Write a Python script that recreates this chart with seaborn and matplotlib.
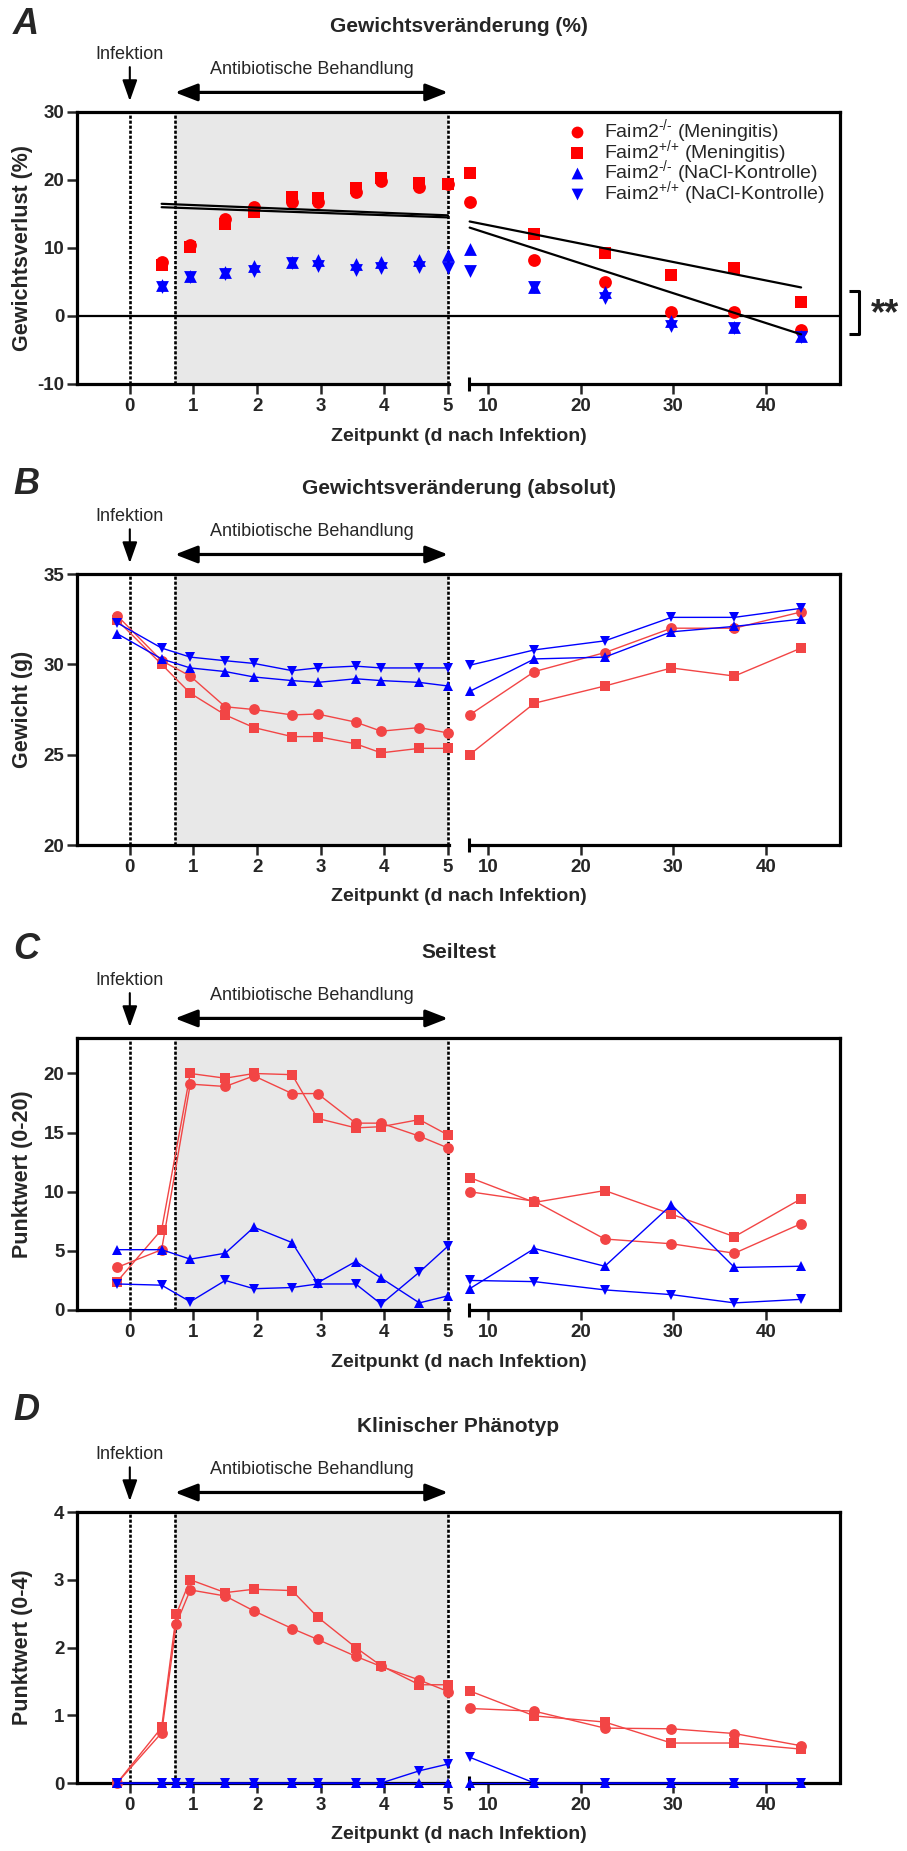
import numpy as np
import matplotlib.pyplot as plt
import seaborn as sns

sns.set_style('ticks')
plt.rcParams['font.family'] = ['Liberation Sans', 'DejaVu Sans']
plt.rcParams['mathtext.fontset'] = 'custom'
plt.rcParams['mathtext.rm'] = 'Liberation Sans'
plt.rcParams['mathtext.default'] = 'regular'
plt.rcParams['axes.unicode_minus'] = False

# Zeitpunkte (d nach Infektion): links 0-5 d, rechts 8-44 d
t_left = [-0.2, 0.5, 0.95, 1.5, 1.95, 2.55, 2.95, 3.55, 3.95, 4.55, 5.0]
t_left_a = [0.5, 0.95, 1.5, 1.95, 2.55, 2.95, 3.55, 3.95, 4.55, 5.0]
t_left_d = [-0.2, 0.5, 0.73, 0.95, 1.5, 1.95, 2.55, 2.95, 3.55, 3.95, 4.55, 5.0]
t_right = [8, 15, 22.6, 29.8, 36.6, 43.8]

# A: Gewichtsverlust (%)
a_ko_men_l = [8.0, 10.4, 14.3, 16.1, 16.8, 16.8, 18.2, 19.8, 18.9, 19.4]
a_ko_men_r = [16.8, 8.3, 5.0, 0.6, 0.6, -2.1]
a_wt_men_l = [7.5, 10.2, 13.5, 15.3, 17.5, 17.4, 18.8, 20.3, 19.5, 19.4]
a_wt_men_r = [21.1, 12.1, 9.2, 6.0, 7.1, 2.1]
a_ko_nacl_l = [4.5, 5.9, 6.4, 7.3, 7.9, 8.3, 7.6, 7.9, 8.2, 9.0]
a_ko_nacl_r = [9.8, 4.3, 3.6, -0.8, -1.6, -3.0]
a_wt_nacl_l = [4.2, 5.8, 6.2, 6.6, 7.8, 7.3, 6.8, 7.1, 7.2, 7.1]
a_wt_nacl_r = [6.6, 4.2, 2.7, -1.5, -1.7, -3.1]
# Regressionsgeraden (Start-/Endwerte)
fit_l_t = [0.5, 5.0]
fit_l_ko = [16.0, 14.5]
fit_l_wt = [16.5, 14.8]
fit_r_t = [8, 43.8]
fit_r_ko = [13.0, -2.7]
fit_r_wt = [13.9, 4.2]

# B: Gewicht (g)
b_ko_men_l = [32.7, 30.2, 29.35, 27.65, 27.5, 27.2, 27.25, 26.8, 26.3, 26.5, 26.2]
b_ko_men_r = [27.2, 29.6, 30.65, 32.0, 32.0, 32.9]
b_wt_men_l = [32.45, 30.0, 28.4, 27.2, 26.5, 26.0, 26.0, 25.6, 25.1, 25.35, 25.35]
b_wt_men_r = [25.0, 27.85, 28.8, 29.8, 29.35, 30.9]
b_ko_nacl_l = [31.7, 30.3, 29.8, 29.6, 29.3, 29.1, 29.0, 29.2, 29.1, 29.0, 28.8]
b_ko_nacl_r = [28.5, 30.3, 30.4, 31.8, 32.1, 32.5]
b_wt_nacl_l = [32.3, 30.9, 30.4, 30.2, 30.05, 29.65, 29.8, 29.9, 29.8, 29.8, 29.8]
b_wt_nacl_r = [29.95, 30.8, 31.3, 32.6, 32.6, 33.1]

# C: Seiltest Punktwert (0-20)
c_ko_men_l = [3.6, 5.1, 19.1, 18.9, 19.8, 18.3, 18.3, 15.8, 15.8, 14.7, 13.7]
c_ko_men_r = [10.0, 9.2, 6.0, 5.6, 4.8, 7.3]
c_wt_men_l = [2.4, 6.8, 20.0, 19.6, 20.0, 19.9, 16.2, 15.4, 15.5, 16.1, 14.8]
c_wt_men_r = [11.2, 9.1, 10.1, 8.1, 6.2, 9.4]
c_ko_nacl_l = [5.1, 5.1, 4.3, 4.8, 7.0, 5.7, 2.3, 4.1, 2.7, 0.6, 1.2]
c_ko_nacl_r = [1.8, 5.2, 3.7, 8.9, 3.6, 3.7]
c_wt_nacl_l = [2.2, 2.1, 0.7, 2.5, 1.8, 1.9, 2.2, 2.2, 0.5, 3.2, 5.4]
c_wt_nacl_r = [2.5, 2.4, 1.7, 1.3, 0.6, 0.9]

# D: Klinischer Phänotyp Punktwert (0-4)
d_ko_men_l = [0, 0.74, 2.35, 2.85, 2.76, 2.54, 2.28, 2.12, 1.87, 1.72, 1.52, 1.35]
d_ko_men_r = [1.10, 1.06, 0.81, 0.80, 0.73, 0.55]
d_wt_men_l = [0, 0.82, 2.49, 3.0, 2.81, 2.86, 2.84, 2.45, 2.0, 1.73, 1.45, 1.45]
d_wt_men_r = [1.36, 0.99, 0.9, 0.59, 0.59, 0.5]
d_ko_nacl_l = [0, 0, 0, 0, 0, 0, 0, 0, 0, 0, 0, 0]
d_ko_nacl_r = [0, 0, 0, 0, 0, 0]
d_wt_nacl_l = [0, 0, 0, 0, 0, 0, 0, 0, 0, 0, 0.18, 0.28]
d_wt_nacl_r = [0.38, 0, 0, 0, 0, 0]

labels = [r'Faim2$^{\text{-/-}}$ (Meningitis)', r'Faim2$^{\text{+/+}}$ (Meningitis)',
          r'Faim2$^{\text{-/-}}$ (NaCl-Kontrolle)', r'Faim2$^{\text{+/+}}$ (NaCl-Kontrolle)']
markers = ['o', 's', '^', 'v']
RED_A = '#FF0000'
RED = '#F24545'
BLUE = '#0000FF'

# gebrochene x-Achse
XMIN, XMAX = -0.83, 48.0
B1, B2, GAP, K = 5.02, 7.9, 0.306, 0.1455


def fwd(x):
    x = np.asarray(x, dtype=float)
    return np.where(x <= B1, x,
                    np.where(x >= B2, B1 + GAP + (x - B2) * K,
                             B1 + (x - B1) * GAP / (B2 - B1)))


def inv(u):
    u = np.asarray(u, dtype=float)
    return np.where(u <= B1, u,
                    np.where(u >= B1 + GAP, B2 + (u - B1 - GAP) / K,
                             B1 + (u - B1) * (B2 - B1) / GAP))


SPINE_LW = 2.3
fig = plt.figure(figsize=(9.07, 18.51), dpi=100)
W, H = 907, 1851


def make_ax(top, bottom):
    return fig.add_axes([77 / W, 1 - bottom / H, 763 / W, (bottom - top) / H])


def style_ax(ax, ylim, yticks, ylabel, title, letter, letter_y):
    ax.set_xscale('function', functions=(fwd, inv))
    ax.set_xlim(XMIN, XMAX)
    ax.set_ylim(*ylim)
    ax.set_yticks(yticks)
    ax.set_xticks([0, 1, 2, 3, 4, 5, 10, 20, 30, 40])
    ax.set_xticklabels(['0', '1', '2', '3', '4', '5', '10', '20', '30', '40'])
    for s in ax.spines.values():
        s.set_linewidth(SPINE_LW)
        s.set_color('k')
        s.set_visible(True)
    ax.spines['bottom'].set_bounds(XMIN, B1)
    xt = ax.get_xaxis_transform()
    ax.plot([B2, XMAX], [0, 0], transform=xt, color='k', lw=SPINE_LW,
            clip_on=False, solid_capstyle='butt', zorder=2.6)
    ax.plot([B2, B2], [-0.026, 0.026], transform=xt, color='k', lw=2.2,
            clip_on=False, solid_capstyle='butt', zorder=2.6)
    ax.tick_params(axis='x', direction='out', length=7, width=1.8, pad=3,
                   labelsize=13.5)
    ax.tick_params(axis='y', direction='out', length=7.5, width=1.8, pad=1.5,
                   labelsize=13.5)
    for lab in ax.get_xticklabels() + ax.get_yticklabels():
        lab.set_fontweight('bold')
    ax.set_xlabel('Zeitpunkt (d nach Infektion)', fontsize=14, fontweight='bold')
    ax.xaxis.set_label_coords(0.5, -0.16)
    ax.set_ylabel(ylabel, fontsize=15.5, fontweight='bold')
    ax.yaxis.set_label_coords(-0.058, 0.5)
    ax.text(0.5, 1.315, title, transform=ax.transAxes, ha='center',
            va='center', fontsize=15, fontweight='bold')
    fig.text(26 / W, 1 - letter_y / H, letter, ha='center', va='center',
             fontsize=26, fontweight='bold', style='italic')
    # Behandlungszeitraum und Infektion
    ax.axvspan(0.71, 5.0, color='#E8E8E8', zorder=0, lw=0)
    for xv in [0, 0.71, 5.0]:
        ax.axvline(xv, color='k', lw=1.9, ls=(0, (1.2, 0.7)), zorder=1)
    bc = ('data', 'axes fraction')
    ax.annotate('', xy=(0, 1.04), xytext=(0, 1.165), xycoords=bc, textcoords=bc,
                arrowprops=dict(arrowstyle='-|>,head_length=0.85,head_width=0.3',
                                color='k', lw=1.5, mutation_scale=15,
                                shrinkA=0, shrinkB=0))
    ax.text(0, 1.212, 'Infektion', transform=ax.get_xaxis_transform(),
            ha='center', va='center', fontsize=13)
    ax.annotate('', xy=(0.71, 1.072), xytext=(5.0, 1.072), xycoords=bc,
                textcoords=bc,
                arrowprops=dict(arrowstyle='<|-|>,head_length=0.9,head_width=0.35',
                                color='k', lw=2.3, mutation_scale=15,
                                shrinkA=0, shrinkB=0))
    ax.text((0.71 + 5.0) / 2, 1.155, 'Antibiotische Behandlung',
            transform=ax.get_xaxis_transform(), ha='center', va='center',
            fontsize=13)


def draw_lines(ax, tl, series, colors):
    for (left, right), mk, col in zip(series, markers, colors):
        for tt, yy in [(tl, left), (t_right, right)]:
            sns.lineplot(x=tt, y=yy, ax=ax, color=col, marker=mk, markersize=7.8,
                         markeredgewidth=0, lw=1.0, estimator=None, sort=False,
                         clip_on=False, zorder=3)


# ---------- A ----------
axA = make_ax(112, 384)
style_ax(axA, (-10, 30), [-10, 0, 10, 20, 30], 'Gewichtsverlust (%)',
         'Gewichtsveränderung (%)', 'A', 24)
axA.axhline(0, color='k', lw=1.6, zorder=1.5)
series_a = [(a_ko_men_l, a_ko_men_r), (a_wt_men_l, a_wt_men_r),
            (a_ko_nacl_l, a_ko_nacl_r), (a_wt_nacl_l, a_wt_nacl_r)]
cols_a = [RED_A, RED_A, BLUE, BLUE]
for (left, right), mk, col, lab in zip(series_a, markers, cols_a, labels):
    sns.scatterplot(x=t_left_a + t_right, y=left + right, ax=axA, color=col,
                    marker=mk, s=85, linewidth=0, label=lab, zorder=3)
for tt, ys in [(fit_l_t, fit_l_ko), (fit_l_t, fit_l_wt),
               (fit_r_t, fit_r_ko), (fit_r_t, fit_r_wt)]:
    sns.lineplot(x=tt, y=ys, ax=axA, color='k', lw=1.6, estimator=None,
                 sort=False, zorder=4)
axA.legend(loc='upper left', bbox_to_anchor=(0.625, 1.03), frameon=False,
           fontsize=14, handlelength=1.0, handletextpad=0.9, labelspacing=-0.38,
           borderpad=0.2, markerscale=0.92)
# Signifikanzklammer
bt = axA.get_yaxis_transform()
axA.plot([1.012, 1.025, 1.025, 1.012], [3.7, 3.7, -2.65, -2.65], transform=bt,
         color='k', lw=2.2, clip_on=False, solid_capstyle='butt')
axA.text(1.059, 0.2, '**', transform=bt, ha='center', va='center',
         fontsize=26, fontweight='bold')

# ---------- B ----------
axB = make_ax(574, 845)
style_ax(axB, (20, 35), [20, 25, 30, 35], 'Gewicht (g)',
         'Gewichtsveränderung (absolut)', 'B', 484)
draw_lines(axB, t_left, [(b_ko_men_l, b_ko_men_r), (b_wt_men_l, b_wt_men_r),
                         (b_ko_nacl_l, b_ko_nacl_r), (b_wt_nacl_l, b_wt_nacl_r)],
           [RED, RED, BLUE, BLUE])

# ---------- C ----------
axC = make_ax(1038, 1310)
style_ax(axC, (0, 23), [0, 5, 10, 15, 20], 'Punktwert (0-20)',
         'Seiltest', 'C', 949)
draw_lines(axC, t_left, [(c_ko_men_l, c_ko_men_r), (c_wt_men_l, c_wt_men_r),
                         (c_ko_nacl_l, c_ko_nacl_r), (c_wt_nacl_l, c_wt_nacl_r)],
           [RED, RED, BLUE, BLUE])

# ---------- D ----------
axD = make_ax(1512, 1783)
style_ax(axD, (0, 4), [0, 1, 2, 3, 4], 'Punktwert (0-4)',
         'Klinischer Phänotyp', 'D', 1410)
draw_lines(axD, t_left_d, [(d_ko_men_l, d_ko_men_r), (d_wt_men_l, d_wt_men_r),
                           (d_ko_nacl_l, d_ko_nacl_r), (d_wt_nacl_l, d_wt_nacl_r)],
           [RED, RED, BLUE, BLUE])

for ax in [axB, axC, axD]:
    if ax.get_legend() is not None:
        ax.get_legend().remove()

fig.savefig('out.png', dpi=100)
